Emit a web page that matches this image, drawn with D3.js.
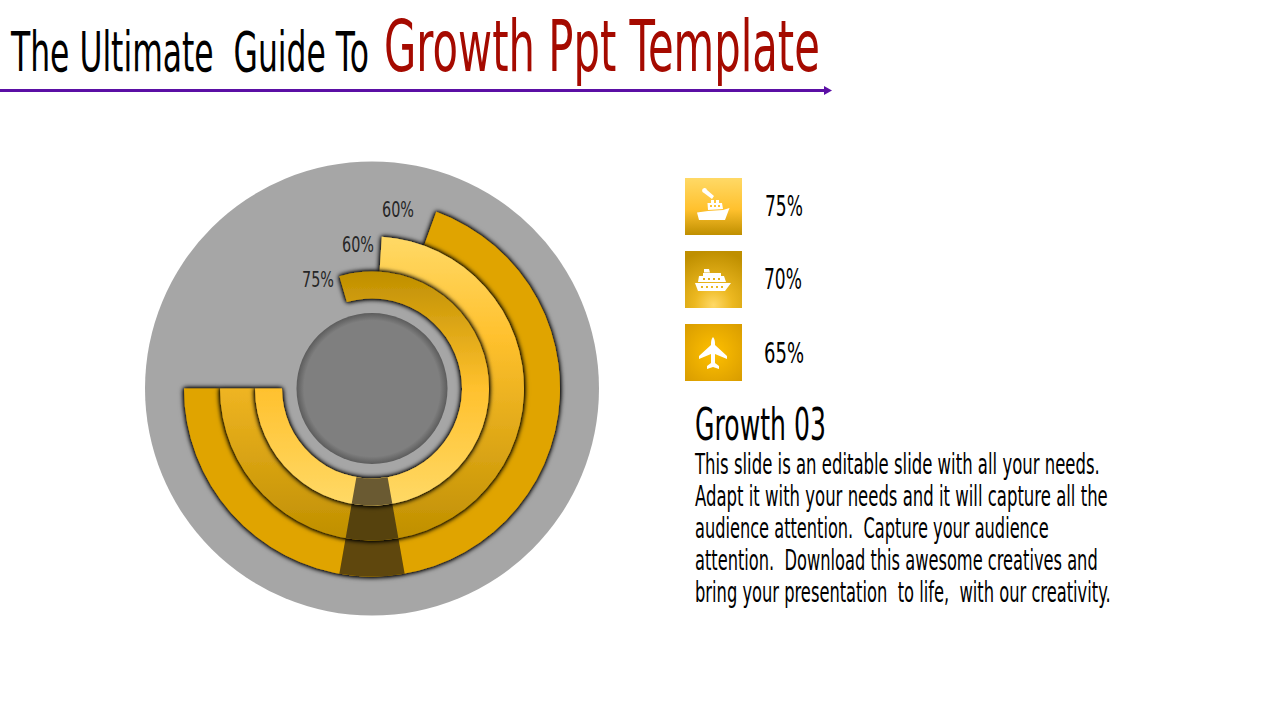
<!DOCTYPE html>
<html>
<head>
<meta charset="utf-8">
<script src="https://cdnjs.cloudflare.com/ajax/libs/d3/7.8.5/d3.min.js"></script>
<style>
    html, body { margin: 0; padding: 0; background: #fff; }
    svg { display: block; }
    text { font-family: "DejaVu Sans", sans-serif; white-space: pre; }
</style>
</head>
<body>
<svg id="chart" width="1280" height="720"></svg>
<script>
// values
var ringNames = ['outer', 'middle', 'inner'];
var ringEndDeg = [20, 3.7, -16.2];      // where each ring stops, clockwise from 12 o'clock
var ringLabels = ['60%', '60%', '75%'];
var tileLabels = ['75%', '70%', '65%'];
var paragraph = [
    'This slide is an editable slide with all your needs.',
    'Adapt it with your needs and it will capture all the',
    'audience attention.  Capture your audience',
    'attention.  Download this awesome creatives and',
    'bring your presentation  to life,  with our creativity.'
];

var svg = d3.select('#chart'),
    defs = svg.append('defs'),
    cx = 372,
    cy = 388.5;

function gradient(kind, id, stops, attrs) {
    var g = defs.append(kind).attr('id', id);
    Object.keys(attrs).forEach(function(k) { g.attr(k, attrs[k]); });
    stops.forEach(function(s) {
        g.append('stop').attr('offset', s[0]).attr('stop-color', s[1]);
    });
}

var user = function(y1, y2) {
    return { gradientUnits: 'userSpaceOnUse', x1: 0, x2: 0, y1: y1, y2: y2 };
};
gradient('linearGradient', 'ring-middle', [[0, '#ffd966'], [0.33, '#ffc12e'], [1, '#bf8f00']], user(-152, 152));
gradient('linearGradient', 'ring-inner', [[0, '#bf8f00'], [0.5, '#ffc12e'], [1, '#ffd966']], user(-117, 117));
gradient('linearGradient', 'tile-0', [[0, '#ffd966'], [0.55, '#ffc12e'], [1, '#bf8f00']], { x1: 0, x2: 0, y1: 0, y2: 1 });
gradient('radialGradient', 'tile-1', [[0, '#ffd966'], [0.35, '#ecb820'], [1, '#bf8f00']], { cx: 0.5, cy: 0.95, r: 0.95 });
gradient('radialGradient', 'tile-2', [[0, '#ffc000'], [1, '#d89c00']], { cx: 0.5, cy: 0.5, r: 0.7 });
gradient('radialGradient', 'core', [[0, '#7f7f7f'], [0.9, '#7f7f7f'], [1, '#5c5c5c']], { cx: 0.5, cy: 0.5, r: 0.5 });

var shadow = defs.append('filter').attr('id', 'shadow')
    .attr('x', '-10%').attr('y', '-10%').attr('width', '120%').attr('height', '120%');
shadow.append('feDropShadow')
    .attr('dx', 0).attr('dy', 0).attr('stdDeviation', 2.5)
    .attr('flood-color', '#000').attr('flood-opacity', 1);
shadow.append('feDropShadow')
    .attr('dx', 0).attr('dy', 0).attr('stdDeviation', 1.5)
    .attr('flood-color', '#000').attr('flood-opacity', 1);

var ringStyle = {
    outer: { r0: 152, r1: 188, fill: '#e0a400', wedge: '#5f4708' },
    middle: { r0: 117, r1: 152, fill: 'url(#ring-middle)', wedge: '#57430e' },
    inner: { r0: 90, r1: 117, fill: 'url(#ring-inner)', wedge: '#6b5a30' }
};

var angle = d3.scaleLinear().domain([0, 360]).range([0, 2 * Math.PI]);
var arc = d3.arc();

var chart = svg.append('g').attr('transform', 'translate(' + cx + ',' + cy + ')');

chart.append('circle').attr('r', 227).attr('fill', '#a6a6a6');

var rings = chart.selectAll('g.ring')
    .data(ringNames)
    .enter().append('g')
    .attr('class', 'ring')
    .attr('filter', 'url(#shadow)');

// every ring runs from 9 o'clock anticlockwise round the bottom to its end angle
rings.append('path')
    .attr('d', function(d, i) {
        return arc({
            innerRadius: ringStyle[d].r0,
            outerRadius: ringStyle[d].r1,
            startAngle: angle(ringEndDeg[i]),
            endAngle: angle(270)
        });
    })
    .attr('fill', function(d) { return ringStyle[d].fill; });

// the dark band across the bottom
rings.append('path')
    .attr('d', function(d) {
        return arc({
            innerRadius: ringStyle[d].r0,
            outerRadius: ringStyle[d].r1,
            startAngle: angle(170),
            endAngle: angle(190)
        });
    })
    .attr('fill', function(d) { return ringStyle[d].wedge; });

chart.append('circle').attr('r', 75.5).attr('fill', 'url(#core)');

// squeeze to the measured width, the original face is a very condensed one
function fitted(label, x, y, size, width, fill) {
    var t = svg.append('text').text(label)
        .attr('font-size', size)
        .attr('fill', fill);
    var natural = t.node().getComputedTextLength();
    t.attr('transform', 'translate(' + x + ',' + y + ') scale(' + (width / natural) + ',1)');
    return t;
}

var ringLabelX = [382, 342, 302],
    ringLabelY = [217, 252, 287];
ringLabels.forEach(function(t, i) {
    fitted(t, ringLabelX[i], ringLabelY[i], 22, 32, '#262626');
});

// title
fitted('The Ultimate  Guide To', 11, 71, 56, 358, '#000');
fitted('Growth Ppt Template', 384, 71, 72, 436, '#a50a00');

svg.append('line')
    .attr('x1', 0).attr('x2', 826).attr('y1', 90.5).attr('y2', 90.5)
    .attr('stroke', '#5b0fa5').attr('stroke-width', 3);
svg.append('path')
    .attr('d', d3.line()([[824, 86], [832, 90.5], [824, 95]]))
    .attr('fill', '#5b0fa5');

// tiles with icons
var tileY = [178, 251, 324],
    labelY = [216, 289, 363],
    labelX = [765, 764, 764],
    labelW = [38, 38, 40];

var icons = [
    // freighter with smoke puff and cabin windows
    'M12 34.5L23 33L38 32L44.5 30L40 42L14 42Z ' +
    'M22.5 25L26 25L26 22L29 22L29 25L31 25L31 22L34 22L34 25L37 25L38 31L23 32Z ' +
    'M25 27h2v2h-2Z M29 27h2v2h-2Z M33 27h2v2h-2Z ' +
    'M19 15A2.5 2.5 0 1 1 22 12L29 18L27 21Z',
    // cruise ship with portholes
    'M10 32L46 32L40 40L13 40Z ' +
    'M14 25L18 25L18 22L36 22L36 25L39 25L41 31L13 31Z ' +
    'M19 18L24 18L25 21.5L19 21.5Z ' +
    'M16 35h2v2h-2Z M21 35h2v2h-2Z M26 35h2v2h-2Z M31 35h2v2h-2Z M36 35h2v2h-2Z ' +
    'M18 27h2v2h-2Z M23 27h2v2h-2Z M28 27h2v2h-2Z M33 27h2v2h-2Z',
    // plane
    'M28 13C30 15 30 18 30 21L42 32L42 35L30 30L30 39L34 42L34 45L28 43L22 45L22 42L26 39L26 30L14 35L14 32L26 21C26 18 26 15 28 13Z'
];

var tiles = svg.selectAll('g.tile')
    .data(tileLabels)
    .enter().append('g')
    .attr('class', 'tile')
    .attr('transform', function(d, i) { return 'translate(685,' + tileY[i] + ')'; });

tiles.append('rect')
    .attr('width', 57).attr('height', 57)
    .attr('fill', function(d, i) { return 'url(#tile-' + i + ')'; });

tiles.append('path')
    .attr('d', function(d, i) { return icons[i]; })
    .attr('fill', '#fff')
    .attr('fill-rule', 'evenodd');

tileLabels.forEach(function(t, i) {
    fitted(t, labelX[i], labelY[i], 29, labelW[i], '#000');
});

// text block
fitted('Growth 03', 695, 440, 44, 131, '#000');

var lineW = [405, 413, 354, 403, 416];
paragraph.forEach(function(t, i) {
    fitted(t, 695, 474 + i * 32, 28, lineW[i], '#000');
});
</script>
</body>
</html>
